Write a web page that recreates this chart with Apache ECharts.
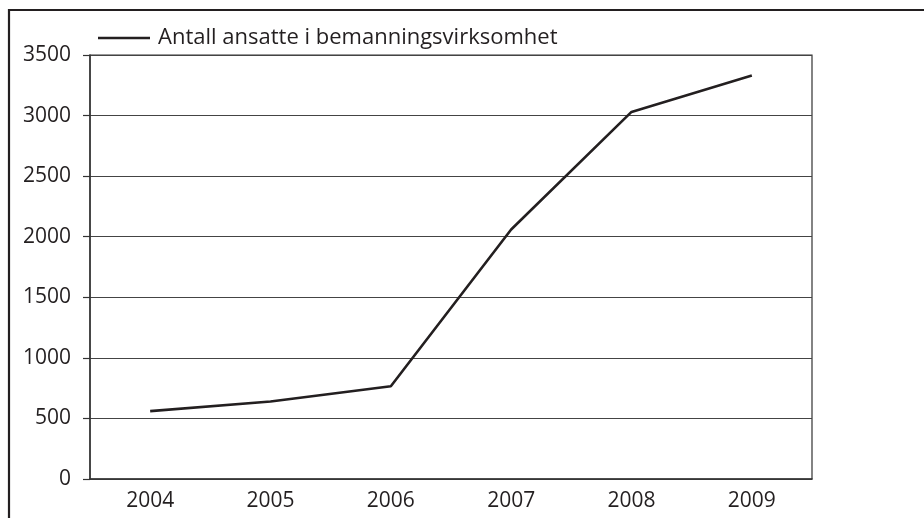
<!DOCTYPE html>
<html lang="no">
<head>
    <meta charset="UTF-8">
    <title>Antall ansatte i bemanningsvirksomhet</title>
    <script src="https://cdn.jsdelivr.net/npm/echarts@6/dist/echarts.min.js"></script>
    <style>
        html, body { margin: 0; padding: 0; background: #fff; }
        #main { width: 924px; height: 518px; }
    </style>
</head>
<body>
<div id="main"></div>
<script>
    // data
    var years = ['2004', '2005', '2006', '2007', '2008', '2009'];
    var ansatte = [560, 640, 765, 2060, 3030, 3330];
    var seriesName = 'Antall ansatte i bemanningsvirksomhet';

    var ink = '#231f20';
    var font = '"Open Sans", "Noto Sans", sans-serif';

    var myChart = echarts.init(document.getElementById('main'));
    var option = {
        backgroundColor: '#fff',
        animation: false,
        textStyle: {fontFamily: font, color: ink},
        // outer frame of the figure (top and left edges)
        graphic: [
            {
                type: 'polyline',
                shape: {points: [[9, 530], [9, 10], [930, 10]]},
                style: {stroke: ink, lineWidth: 2.2, fill: null}
            }
        ],
        legend: {
            left: 93,
            top: 22,
            icon: 'rect',
            itemWidth: 52,
            itemHeight: 2.4,
            textStyle: {fontSize: 22, color: ink, fontFamily: font, padding: [0, 0, 0, 3]},
            data: [seriesName]
        },
        grid: {
            left: 90,
            right: 112,
            top: 55,
            bottom: 39,
            show: true,
            borderColor: '#333',
            borderWidth: 1.2,
            backgroundColor: 'transparent'
        },
        xAxis: {
            type: 'category',
            boundaryGap: true,
            data: years,
            axisLine: {lineStyle: {color: '#333', width: 1.5}},
            axisTick: {show: false},
            axisLabel: {fontSize: 21, color: ink, margin: 12, fontFamily: font}
        },
        yAxis: {
            type: 'value',
            min: 0,
            max: 3500,
            interval: 500,
            axisLine: {show: true, lineStyle: {color: '#333', width: 1.5}},
            axisTick: {show: true, length: 7, lineStyle: {color: '#333', width: 1.2}},
            axisLabel: {
                fontSize: 21, color: ink, margin: 19, fontFamily: font,
                formatter: function (v) { return String(v); }
            },
            splitLine: {lineStyle: {color: '#444', width: 1}}
        },
        series: [
            {
                name: seriesName,
                type: 'line',
                data: ansatte,
                symbol: 'none',
                lineStyle: {color: ink, width: 2.6},
                itemStyle: {color: ink}
            }
        ]
    };
    myChart.setOption(option);
</script>
</body>
</html>
